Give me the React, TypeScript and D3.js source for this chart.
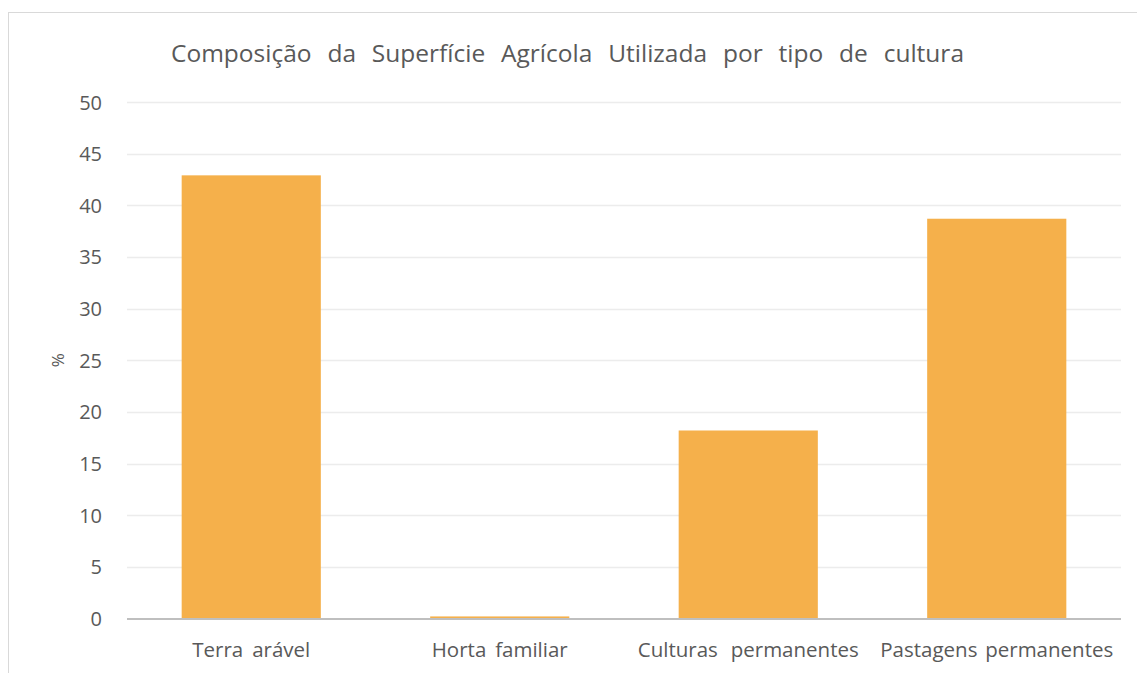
import React, { useLayoutEffect, useRef } from "react";
import * as d3 from "d3";

const categories = ["Terra arável", "Horta familiar", "Culturas permanentes", "Pastagens permanentes"];
const values = [42.9, 0.2, 18.2, 38.7];
const yTicks = [0, 5, 10, 15, 20, 25, 30, 35, 40, 45, 50];
const title = "Composição da Superfície Agrícola Utilizada por tipo de cultura";
const yTitle = "%";

const W = 1137;
const H = 673;
const plot = { left: 127, right: 1121, top: 102, bottom: 618.5 };
const FONT = "'Open Sans', 'Noto Sans', sans-serif";
const TEXT = "#595959";

function SpacedText(props: { x: number; y: number; size: number; target: number; children: string }) {
  const ref = useRef<SVGTextElement>(null);
  useLayoutEffect(() => {
    const el = ref.current;
    if (!el) return;
    el.setAttribute("word-spacing", "0");
    const natural = el.getComputedTextLength();
    const spaces = (props.children.match(/ /g) || []).length;
    if (spaces > 0) {
      const ws = Math.max(0, (props.target - natural) / spaces);
      el.setAttribute("word-spacing", String(ws));
    }
  }, [props.children, props.target, props.size]);
  return (
    <text ref={ref} x={props.x} y={props.y} textAnchor="middle" fontFamily={FONT} fontSize={props.size} fill={TEXT}>
      {props.children}
    </text>
  );
}

export default function App() {
  const x = d3.scaleBand<string>().domain(categories).range([plot.left, plot.right]).paddingInner(0.44).paddingOuter(0.22);
  const y = d3.scaleLinear().domain([0, 50]).range([plot.bottom, plot.top]);
  const xLabelWidths = [118, 136, 221, 233];
  return (
    <svg width={W} height={H} style={{ position: "absolute", left: 0, top: 0, background: "#fff" }}>
      <rect x={8.5} y={12.5} width={W + 10} height={H + 10} fill="#fff" stroke="#d9d9d9" strokeWidth={1} />
      <SpacedText x={567.5} y={62} size={24.5} target={793}>{title}</SpacedText>
      {yTicks.filter((t) => t > 0).map((t) => (
        <line key={t} x1={plot.left} x2={plot.right} y1={Math.round(y(t)) + 0.5} y2={Math.round(y(t)) + 0.5} stroke="#ececec" strokeWidth={1.3} />
      ))}
      {yTicks.map((t) => (
        <text key={t} x={102} y={y(t) + 7.5} textAnchor="end" fontFamily={FONT} fontSize={20} fill={TEXT}>{t}</text>
      ))}
      <text transform={`translate(64,${(plot.top + plot.bottom) / 2}) rotate(-90)`} textAnchor="middle" fontFamily={FONT} fontSize={17} fill={TEXT}>{yTitle}</text>
      {categories.map((c, i) => (
        <rect key={c} x={x(c)} y={y(values[i])} width={x.bandwidth()} height={y(0) - y(values[i])} fill="#F5B04B" />
      ))}
      <line x1={plot.left} x2={plot.right} y1={plot.bottom + 0.5} y2={plot.bottom + 0.5} stroke="#bfbfbf" strokeWidth={2.2} />
      {categories.map((c, i) => (
        <SpacedText key={c} x={(x(c) as number) + x.bandwidth() / 2} y={657} size={20.5} target={xLabelWidths[i]}>{c}</SpacedText>
      ))}
    </svg>
  );
}
